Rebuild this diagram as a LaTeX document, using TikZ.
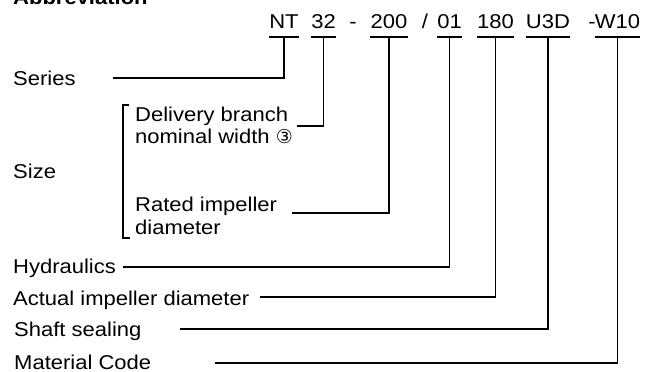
\documentclass[tikz,border=0pt]{standalone}
\usepackage{fontspec}
\setmainfont{Liberation Sans}[FakeStretch=1.1]
\newfontfamily\symfont{DejaVu Sans}
\begin{document}
\begin{tikzpicture}[x=1pt,y=1pt,
  lbl/.style={anchor=base west,inner sep=0pt,font=\fontsize{20}{23}\selectfont},
  code/.style={anchor=base,inner sep=0pt,font=\fontsize{20}{23}\selectfont},
  ln/.style={line width=1.7pt}]
\useasboundingbox (0,0) rectangle (659,-372);
\clip (0,0) rectangle (659,-372);
\node[lbl,font=\bfseries\fontsize{20}{23}\selectfont] (title) at (13,-5) {Abbreviation};
% code
\node[code] (nt) at (284,-28) {NT};
\node[code] (c32) at (323.5,-28) {32};
\node[code] (d1) at (353,-28) {-};
\node[code] (c200) at (389,-28) {200};
\node[code] (sl) at (425,-28) {/};
\node[code] (c01) at (449.5,-28) {01};
\node[code] (c180) at (495.5,-28) {180};
\node[code] (u3d) at (548,-28) {U3D};
\node[code] (d2) at (592,-28) {-};
\node[code] (w10) at (617.5,-28) {W10};
\foreach \n in {nt,c32,c200,c01,c180,u3d,w10}
  \draw[ln] ([yshift=-9pt]\n.base west) -- ([yshift=-9pt]\n.base east);
% labels
\node[lbl] (series) at (13,-85) {Series};
\node[lbl] (size) at (13,-178) {Size};
\node[lbl] (deliv1) at (135,-121) {Delivery branch};
\node[lbl] (deliv2) at (135,-143) {nominal width {\symfont\fontsize{19}{19}\selectfont ③}};
\node[lbl] (rated1) at (135,-211) {Rated impeller};
\node[lbl] (rated2) at (135,-234) {diameter};
\node[lbl] (hyd) at (13,-273) {Hydraulics};
\node[lbl] (act) at (13,-305) {Actual impeller diameter};
\node[lbl] (shaft) at (14,-336) {Shaft sealing};
\node[lbl] (mat) at (14,-369) {Material Code};
% free ends
\coordinate (eSeries) at (113,-78);
\coordinate (e32) at (297,-126);
\coordinate (e200) at (292,-213);
\coordinate (e01) at (123,-267);
\coordinate (e180) at (260,-297);
\coordinate (eU3D) at (180,-329);
\coordinate (eW10) at (215,-363);
% connectors
\draw[ln] ([yshift=-9pt]nt.base) |- (eSeries);
\draw[ln] ([yshift=-9pt]c32.base) |- (e32);
\draw[ln] ([yshift=-9pt]c200.base) |- (e200);
\draw[ln] ([yshift=-9pt]c01.base) |- (e01);
\draw[ln] ([yshift=-9pt]c180.base) |- (e180);
\draw[ln] ([yshift=-9pt]u3d.base) |- (eU3D);
\draw[ln] ([yshift=-9pt]w10.base) |- (eW10);
% bracket
\draw[ln] (129,-105) -- (123,-105) -- (123,-238) -- (130,-238);
\end{tikzpicture}
\end{document}
